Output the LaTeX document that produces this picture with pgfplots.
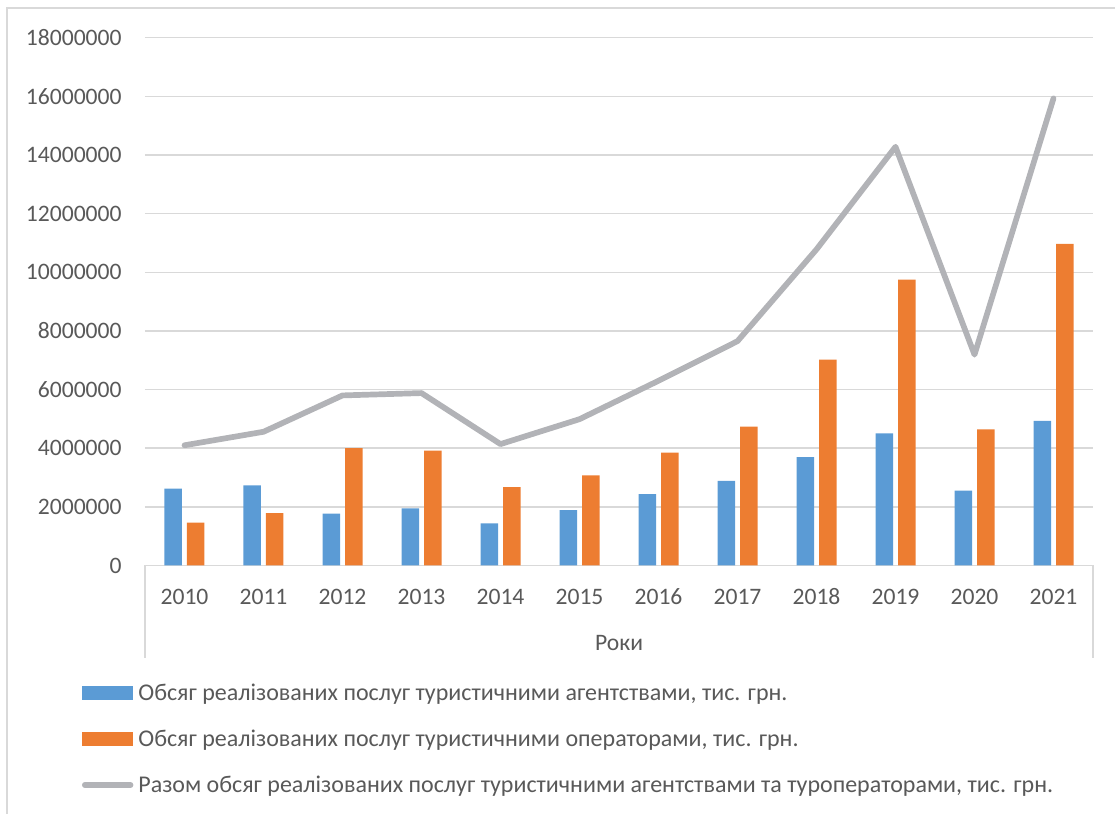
\documentclass[border=0pt]{standalone}
\usepackage{pgfplots}
\pgfplotsset{compat=1.18}
\usepackage{fontspec}
\setmainfont{Carlito}
\definecolor{blueBar}{HTML}{5B9BD5}
\definecolor{orangeBar}{HTML}{ED7D31}
\definecolor{lineGray}{RGB}{178,179,183}
\definecolor{gridGray}{HTML}{D9D9D9}
\definecolor{textGray}{HTML}{595959}
\newcommand{\chartfont}{\fontsize{11.8}{14}\selectfont}
\newcommand{\legfont}{\fontsize{12}{14.4}\selectfont}
\begin{document}
\begin{tikzpicture}
\path[use as bounding box] (0,0) rectangle (557.5pt,407pt);
\draw[gridGray, line width=1pt] (3.65pt,0pt) -- (3.65pt,403pt) -- (557.5pt,403pt);
\begin{axis}[
  at={(72.5pt,124.25pt)}, anchor=south west,
  scale only axis, width=474pt, height=263.9pt,
  xmin=-0.5, xmax=11.5, ymin=0, ymax=18000000,
  xtick={0,1,2,3,4,5,6,7,8,9,10,11},
  xticklabels={2010,2011,2012,2013,2014,2015,2016,2017,2018,2019,2020,2021},
  ytick={0,2000000,4000000,6000000,8000000,10000000,12000000,14000000,16000000,18000000},
  scaled y ticks=false,
  /pgf/number format/assume math mode=true,
  yticklabel style={/pgf/number format/fixed, /pgf/number format/precision=0, /pgf/number format/1000 sep={}, anchor=east, inner sep=0pt, xshift=-11.5pt},
  xticklabel style={anchor=base, inner sep=0pt, yshift=-19.4pt},
  tick label style={font=\chartfont, text=textGray},
  major tick length=0pt,
  axis x line*=bottom, axis y line*=left,
  x axis line style={draw=gridGray, line width=0.75pt, -},
  y axis line style={draw=none},
  ymajorgrids, grid style={gridGray, line width=0.75pt},
  xlabel={Роки},
  xlabel style={at={(axis description cs:0.5,0)}, anchor=base, inner sep=0pt, yshift=-42.75pt, font=\chartfont, text=textGray},
  legend cell align=left,
  legend style={at={(axis description cs:-0.06646,-0.2234)}, anchor=north west, draw=none, fill=none, inner sep=0pt, outer sep=0pt, row sep=12pt, column sep=2.5pt,
    nodes={inner sep=0pt, text height=8.5pt, text depth=2.5pt, font=\legfont, text=textGray}},
  clip=false,
]
\draw[gridGray, line width=0.75pt] (rel axis cs:0,0) -- ++(0pt,-46.25pt);
\draw[gridGray, line width=0.75pt] (rel axis cs:1,0) -- ++(0pt,-46.25pt);
\addplot[ybar, bar width=8.75pt, bar shift=-5.625pt, fill=blueBar, draw=none,
  legend image code/.code={\fill[blueBar] (0pt,-2.9pt) rectangle (25.65pt,4.3pt);}]
  coordinates {(0,2620000) (1,2730000) (2,1770000) (3,1950000) (4,1440000) (5,1890000) (6,2430000) (7,2890000) (8,3700000) (9,4510000) (10,2550000) (11,4930000)};
\addlegendentry{Обсяг реалізованих послуг туристичними агентствами, тис. грн.}
\addplot[ybar, bar width=8.75pt, bar shift=5.625pt, fill=orangeBar, draw=none,
  legend image code/.code={\fill[orangeBar] (0pt,-2.9pt) rectangle (25.65pt,4.3pt);}]
  coordinates {(0,1460000) (1,1790000) (2,4000000) (3,3920000) (4,2670000) (5,3070000) (6,3850000) (7,4740000) (8,7020000) (9,9750000) (10,4640000) (11,10970000)};
\addlegendentry{Обсяг реалізованих послуг туристичними операторами, тис. грн.}
\addplot[lineGray, line width=2.85pt, line join=round, line cap=round, mark=none, sharp plot,
  legend image code/.code={\draw[lineGray, line width=2.85pt, line cap=round] (1.4pt,0.7pt) -- (24.25pt,0.7pt);}]
  coordinates {(0,4100000) (1,4560000) (2,5800000) (3,5880000) (4,4140000) (5,4990000) (6,6300000) (7,7650000) (8,10780000) (9,14280000) (10,7190000) (11,15930000)};
\addlegendentry{Разом обсяг реалізованих послуг туристичними агентствами та туроператорами, тис. грн.}
\end{axis}
\end{tikzpicture}
\end{document}
